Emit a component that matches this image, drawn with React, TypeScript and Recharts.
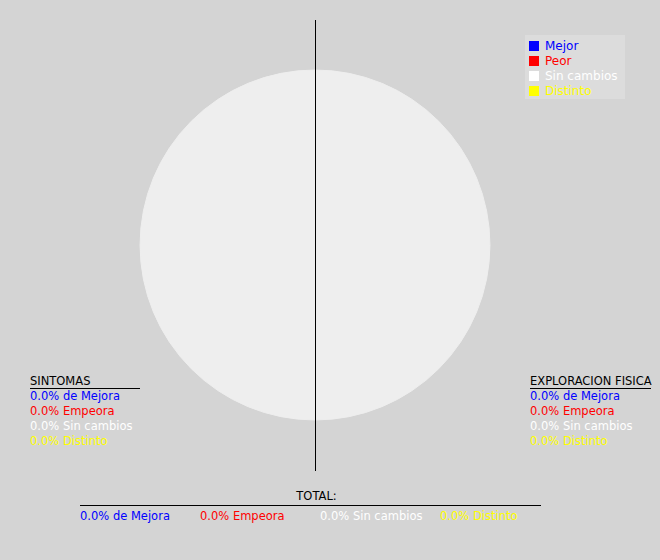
import React from "react";
import { PieChart, Pie, Cell, Legend } from "recharts";

const categories = ["Mejor", "Peor", "Sin cambios", "Distinto"];
const categoryColors = ["#0000ff", "#ff0000", "#ffffff", "#ffff00"];
const summaryLabels = ["de Mejora", "Empeora", "Sin cambios", "Distinto"];
const sintomasPct = [0.0, 0.0, 0.0, 0.0];
const exploracionPct = [0.0, 0.0, 0.0, 0.0];
const totalPct = [0.0, 0.0, 0.0, 0.0];
const halves = ["SINTOMAS", "EXPLORACION FISICA"];
const halfWeights = [1, 1];

const pieData = halves.map((name, i) => ({ name, value: halfWeights[i] }));

const FONT = "'DejaVu Sans', sans-serif";
const FS = 11.5;
const BG = "#d4d4d4";

const LegendBox = () => (
  <div
    style={{
      background: "#dcdcdc",
      width: 100,
      height: 64,
      paddingTop: 3,
      boxSizing: "border-box",
      fontFamily: FONT,
      fontSize: 12,
    }}
  >
    {categories.map((c, i) => (
      <div key={c} style={{ height: 15, display: "flex", alignItems: "center", color: categoryColors[i] }}>
        <span style={{ display: "inline-block", width: 10, height: 10, background: categoryColors[i], marginLeft: 4, marginRight: 6 }} />
        <span>{c}</span>
      </div>
    ))}
  </div>
);

const Block = ({ title, values, left, top, underline }: { title: string; values: number[]; left: number; top: number; underline: number }) => (
  <div style={{ position: "absolute", left, top, fontFamily: FONT, fontSize: FS, lineHeight: "15px", whiteSpace: "nowrap" }}>
    <div style={{ color: "#000", borderBottom: "1px solid #000", width: underline, height: 14 }}>{title}</div>
    {values.map((v, i) => (
      <div key={i} style={{ color: categoryColors[i], height: 15 }}>
        {v.toFixed(1)}% {summaryLabels[i]}
      </div>
    ))}
  </div>
);

export default function App() {
  return (
    <div style={{ position: "fixed", left: 0, top: 0, width: 660, height: 560, background: BG, overflow: "hidden" }}>
      <PieChart width={660} height={560} margin={{ top: 0, right: 0, bottom: 0, left: 0 }}>
        <Pie
          data={pieData}
          dataKey="value"
          nameKey="name"
          cx={315}
          cy={245}
          outerRadius={175}
          startAngle={90}
          endAngle={450}
          stroke="#eeeeee"
          isAnimationActive={false}
        >
          {pieData.map((d) => (
            <Cell key={d.name} fill="#eeeeee" />
          ))}
        </Pie>
        <Legend content={() => <LegendBox />} wrapperStyle={{ position: "absolute", left: 525, top: 35, width: 100 }} />
      </PieChart>
      <div style={{ position: "absolute", left: 315, top: 20, width: 1, height: 451, background: "#000" }} />
      <Block title={halves[0]} values={sintomasPct} left={30} top={374} underline={110} />
      <Block title={halves[1]} values={exploracionPct} left={530} top={374} underline={121} />
      <div style={{ position: "absolute", left: 80, top: 489, width: 461, fontFamily: FONT, fontSize: FS }}>
        <div style={{ textAlign: "center", borderBottom: "1px solid #000", height: 16, lineHeight: "15px", paddingLeft: 12, boxSizing: "content-box" }}>TOTAL:</div>
        <div style={{ position: "relative", height: 15, marginTop: 3 }}>
          {totalPct.map((v, i) => (
            <span key={i} style={{ position: "absolute", left: i * 120, color: categoryColors[i], whiteSpace: "nowrap", lineHeight: "15px" }}>
              {v.toFixed(1)}% {summaryLabels[i]}
            </span>
          ))}
        </div>
      </div>
    </div>
  );
}
